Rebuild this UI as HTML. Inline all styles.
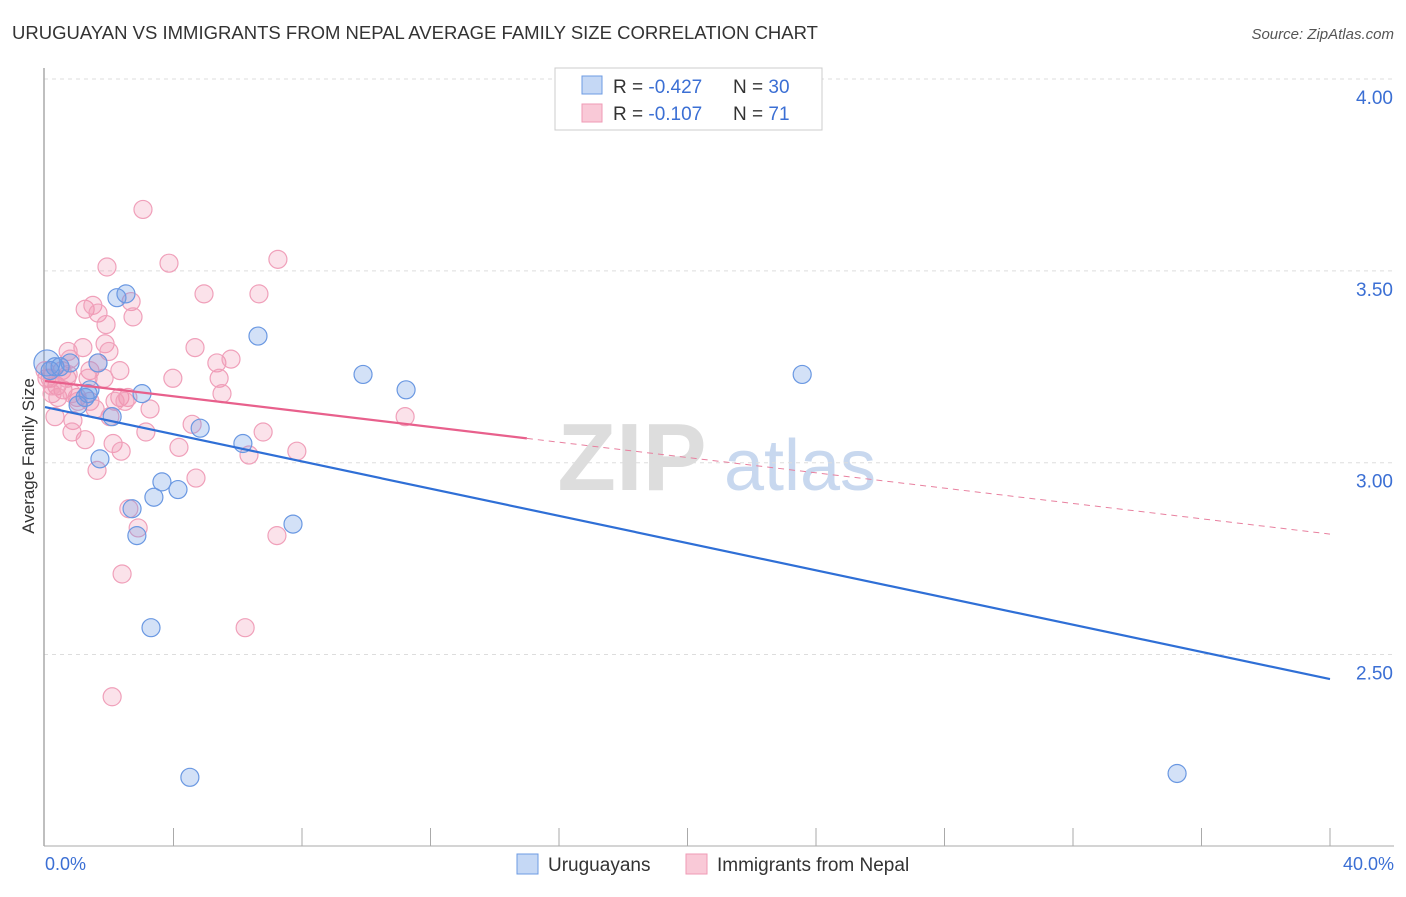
<!DOCTYPE html>
<html><head><meta charset="utf-8"><style>
body{margin:0;background:#fff;font-family:"Liberation Sans",sans-serif;}
svg text{font-family:"Liberation Sans",sans-serif;}
</style></head><body>
<svg id="c" width="1406" height="892">
<text x="12" y="39" font-size="18.5" fill="#333" textLength="806" lengthAdjust="spacingAndGlyphs">URUGUAYAN VS IMMIGRANTS FROM NEPAL AVERAGE FAMILY SIZE CORRELATION CHART</text>
<text x="1394" y="39" font-size="15" fill="#555" font-style="italic" text-anchor="end">Source: ZipAtlas.com</text>
<g>
<text x="632" y="490" font-size="96" fill="#ddd" text-anchor="middle" font-family="Liberation Serif" font-weight="bold">ZIP</text>
<text x="800" y="490" font-size="72" fill="#c8d8ef" text-anchor="middle">atlas</text>
</g>
<g id="grid"></g>
<line x1="44" y1="68" x2="44" y2="846" stroke="#aaa" stroke-width="1.5"/>
<line x1="44" y1="846" x2="1394" y2="846" stroke="#aaa" stroke-width="1"/>
<text transform="translate(34,456) rotate(-90)" font-size="17" fill="#333" text-anchor="middle">Average Family Size</text>
<text x="45" y="870" font-size="18" fill="#3b6fd4">0.0%</text>
<text x="1394" y="870" font-size="18" fill="#3b6fd4" text-anchor="end">40.0%</text>
<g id="pts"></g>
<g id="lines"></g>
<g>
<rect x="555" y="68" width="267" height="62" fill="#fff" stroke="#ccc"/>
<rect x="582" y="76" width="20" height="18" fill="#c5d8f5" stroke="#6d9be3"/>
<rect x="582" y="104" width="20" height="18" fill="#f9c9d7" stroke="#ef9ab5"/>
<text x="613" y="93" font-size="19" fill="#333">R = <tspan fill="#3b6fd4">-0.427</tspan><tspan x="733">N = </tspan><tspan fill="#3b6fd4">30</tspan></text>
<text x="613" y="120" font-size="19" fill="#333">R = <tspan fill="#3b6fd4"> -0.107</tspan><tspan x="733">N = </tspan><tspan fill="#3b6fd4"> 71</tspan></text>
</g>
<g>
<rect x="517" y="854" width="21" height="20" fill="#c5d8f5" stroke="#6d9be3"/>
<text x="548" y="871" font-size="19" fill="#333">Uruguayans</text>
<rect x="686" y="854" width="21" height="20" fill="#f9c9d7" stroke="#ef9ab5"/>
<text x="717" y="871" font-size="19" fill="#333">Immigrants from Nepal</text>
</g>
</svg>
<script>
const yTicks=[4.0,3.5,3.0,2.5];
const yTickLabels=["4.00","3.50","3.00","2.50"];
const blueX=[0.06,0.31,0.78,1.65,1.40,1.03,1.34,1.71,2.09,2.24,2.52,3.02,2.71,2.86,3.39,3.64,4.14,3.30,4.51,4.83,6.16,6.63,7.72,9.90,11.24,23.57,35.24,0.47,1.25,0.16];
const blueY=[3.26,3.25,3.26,3.26,3.19,3.15,3.18,3.01,3.12,3.43,3.44,3.18,2.88,2.81,2.91,2.95,2.93,2.57,2.18,3.09,3.05,3.33,2.84,3.23,3.19,3.23,2.19,3.25,3.17,3.24];
const pinkX=[3.05,1.93,3.86,7.25,2.68,4.95,6.66,1.25,1.49,1.65,2.74,1.90,1.18,1.87,1.99,4.67,5.35,5.79,3.98,5.42,5.51,0.72,1.40,1.65,2.33,2.58,3.27,0.31,0.87,1.25,0.84,2.12,2.37,3.14,4.17,4.58,6.79,6.35,7.84,4.70,1.62,2.02,0.37,0.16,0.56,1.00,0.68,1.40,2.61,2.90,2.40,6.23,7.22,2.09,11.21,0.06,0.22,0.53,0.78,2.33,2.18,1.03,1.56,0.72,0.40,0.0,1.34,1.84,2.49,0.84,0.22];
const pinkY=[3.66,3.51,3.52,3.53,3.42,3.44,3.44,3.40,3.41,3.39,3.38,3.36,3.30,3.31,3.29,3.30,3.26,3.27,3.22,3.22,3.18,3.29,3.24,3.26,3.17,3.17,3.14,3.12,3.11,3.06,3.08,3.05,3.03,3.08,3.04,3.10,3.08,3.02,3.03,2.96,2.98,3.12,3.20,3.22,3.19,3.17,3.22,3.16,2.88,2.83,2.71,2.57,2.81,2.39,3.12,3.22,3.18,3.24,3.27,3.24,3.16,3.16,3.14,3.23,3.17,3.24,3.22,3.22,3.16,3.18,3.20];
const blueTrend=[3.145,2.436];
const pinkTrend=[3.213,2.814];
const pinkSolidEnd=15.0;
const xTickCount=10;
const NS="http://www.w3.org/2000/svg";
const xs=v=>45+v/40*1285;
const ys=v=>79+(4-v)*383.7;
function mk(tag,attrs,parent){const e=document.createElementNS(NS,tag);for(const k in attrs)e.setAttribute(k,attrs[k]);parent.appendChild(e);return e;}
const grid=document.getElementById('grid');
yTicks.forEach((t,i)=>{
  const l=mk('line',{x1:44,x2:1394,y1:ys(t),y2:ys(t),stroke:'#ddd','stroke-dasharray':'4,4'},grid);
  
  
  const tx=mk('text',{x:1393,y:ys(t)+25,'font-size':19,fill:'#3b6fd4','text-anchor':'end'},grid);
  tx.textContent=yTickLabels[i];
  
  
});
for(let i=1;i<=xTickCount;i++){
  const x=xs(i*40/xTickCount);
  const l=mk('line',{x1:x,x2:x,y1:828,y2:846,stroke:'#aaa'},grid);
  
  
}
const pts=document.getElementById('pts');
pinkX.forEach((x,i)=>{
  const c=mk('circle',{cx:xs(x),cy:ys(pinkY[i]),r:9,fill:'rgba(240,140,170,0.25)',stroke:'#f0a0ba','stroke-width':1.2},pts);
  
  
});
blueX.forEach((x,i)=>{
  const c=mk('circle',{cx:xs(x),cy:ys(blueY[i]),r:i===0?13:9,fill:'rgba(110,155,230,0.3)',stroke:'#6a98e2','stroke-width':1.2},pts);
  
  
});
const lines=document.getElementById('lines');
const bl=mk('line',{x1:xs(0),y1:ys(blueTrend[0]),x2:xs(40),y2:ys(blueTrend[1]),stroke:'#2f6fd6','stroke-width':2.2},lines);


const pAt=x=>pinkTrend[0]+(pinkTrend[1]-pinkTrend[0])*x/40;
const pl=mk('line',{x1:xs(0),y1:ys(pAt(0)),x2:xs(pinkSolidEnd),y2:ys(pAt(pinkSolidEnd)),stroke:'#e8608c','stroke-width':2.2},lines);


const pd=mk('line',{x1:xs(pinkSolidEnd),y1:ys(pAt(pinkSolidEnd)),x2:xs(40),y2:ys(pAt(40)),stroke:'#e8809f','stroke-width':1,'stroke-dasharray':'6,5'},lines);


</script>
</body></html>
